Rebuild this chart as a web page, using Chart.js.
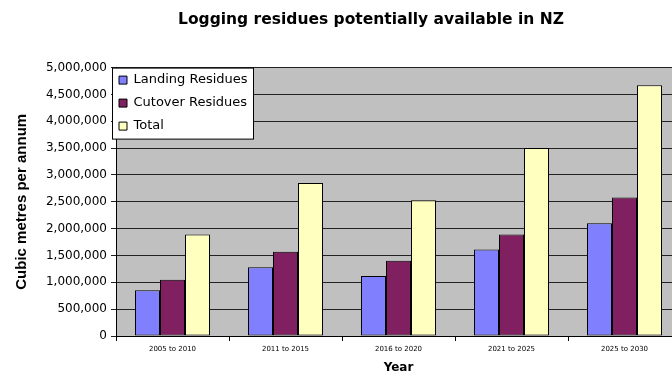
<!DOCTYPE html>
<html>
<head>
<meta charset="utf-8">
<script src="https://cdn.jsdelivr.net/npm/chart.js@4"></script>
<style>
html, body { margin: 0; padding: 0; background: #fff; overflow: hidden; }
</style>
</head>
<body>
<canvas id="barChartResidues" width="690" height="376"></canvas>
<script>
var periods = ['2005 to 2010', '2011 to 2015', '2016 to 2020', '2021 to 2025', '2025 to 2030']
var landingResidues = [850000, 1280000, 1120000, 1610000, 2100000]
var cutoverResidues = [1050000, 1570000, 1400000, 1890000, 2580000]
var totalResidues = [1890000, 2850000, 2530000, 3500000, 4670000]
var yMin = 0
var yMax = 5000000
var yStep = 500000

// grey plot area, title nudge and boxed legend like the excel original
var excelLook = {
    id: 'excelLook',
    beforeDraw: function (chart) {
        var a = chart.chartArea
        var ctx = chart.ctx
        ctx.save()
        ctx.fillStyle = '#c0c0c0'
        ctx.fillRect(a.left, a.top, a.width, a.height)
        ctx.restore()
    },
    afterLayout: function (chart) {
        var a = chart.chartArea
        chart.titleBlock.left = 0
        chart.titleBlock.right = 742
        chart.legend.left = a.left - 7
        chart.legend.top = a.top - 4
    },
    afterDraw: function (chart) {
        var a = chart.chartArea
        var ctx = chart.ctx
        ctx.save()
        ctx.fillStyle = '#fff'
        ctx.fillRect(a.left - 3.5, a.top + 0.5, 141, 71)
        ctx.strokeStyle = '#000'
        ctx.lineWidth = 1
        ctx.strokeRect(a.left - 3.5, a.top + 0.5, 141, 71)
        ctx.restore()
        chart.legend.draw()
    }
}

var barChartData = {
    labels: periods,
    datasets: [
        { label: 'Landing Residues', data: landingResidues, backgroundColor: '#8080ff' },
        { label: 'Cutover Residues', data: cutoverResidues, backgroundColor: '#802060' },
        { label: 'Total', data: totalResidues, backgroundColor: '#ffffc0' }
    ]
}
barChartData.datasets.forEach(function (ds) {
    ds.borderColor = '#000'
    ds.borderWidth = 1
    ds.borderSkipped = false
    ds.categoryPercentage = 0.664
    ds.barPercentage = 1
})

var barChartOptions = {
    responsive: false,
    animation: false,
    locale: 'en-US',
    layout: { padding: { left: 0, right: 9, top: 0, bottom: 0 } },
    plugins: {
        title: {
            display: true,
            text: 'Logging residues potentially available in NZ',
            color: '#000',
            font: { family: 'DejaVu Sans', size: 15.5, weight: 'bold' },
            padding: { top: 11, bottom: 38 }
        },
        legend: {
            position: 'chartArea',
            align: 'start',
            labels: {
                color: '#000',
                font: { family: 'DejaVu Sans', size: 13 },
                boxWidth: 8,
                boxHeight: 8,
                padding: 10
            }
        },
        tooltip: { enabled: false }
    },
    scales: {
        x: {
            grid: { offset: true, drawOnChartArea: false, color: '#000', tickLength: 5 },
            border: { color: '#000' },
            ticks: { color: '#000', padding: 4, font: { family: 'DejaVu Sans', size: 7 }, maxRotation: 0 },
            title: {
                display: true,
                text: 'Year',
                color: '#000',
                font: { family: 'DejaVu Sans', size: 12, weight: 'bold' },
                padding: { top: 0, bottom: 1 }
            },
            afterFit: function (scale) { scale.height = 40 }
        },
        y: {
            min: yMin,
            max: yMax,
            grid: { color: '#222', tickLength: 5 },
            border: { color: '#000' },
            ticks: { stepSize: yStep, color: '#000', padding: 4, font: { family: 'DejaVu Sans', size: 12 } },
            title: {
                display: true,
                text: 'Cubic metres per annum',
                color: '#000',
                font: { family: 'Liberation Sans', size: 15, weight: 'bold' },
                padding: { top: 13, bottom: 0 }
            },
            afterFit: function (scale) { scale.width = 116 }
        }
    }
}

var barChartCanvas = document.getElementById('barChartResidues').getContext('2d')
new Chart(barChartCanvas, {
    type: 'bar',
    data: barChartData,
    options: barChartOptions,
    plugins: [excelLook]
})
</script>
</body>
</html>
